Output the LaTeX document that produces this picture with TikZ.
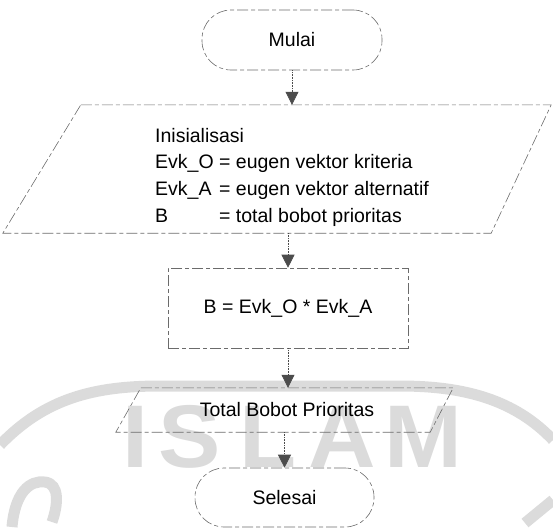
\documentclass[tikz,border=0pt]{standalone}
\usepackage{fontspec}
\setmainfont{Liberation Sans}
\usetikzlibrary{arrows.meta,calc}

\definecolor{wmgray}{gray}{0.86}
\definecolor{linegray}{gray}{0.42}

\tikzset{
  outline/.style={draw=linegray, line width=0.6pt,
    dash pattern=on 11pt off 3pt on 4pt off 3pt},
  label/.style={font=\fontsize{19.5}{26.7}\selectfont, inner sep=0pt},
  terminal/.style={outline, rounded corners=29pt, minimum width=180pt,
    minimum height=60pt, label},
  process/.style={outline, minimum width=240pt, minimum height=80pt, label},
  frame/.style={minimum width=#1, inner sep=0pt},
  conn/.style={draw=black!70, line width=0.6pt, densely dotted,
    -{Triangle[width=13pt,length=13pt]}},
  wmband/.style={draw=wmgray, line width=11pt},
  wmletter/.style={text=wmgray, font=\fontsize{89}{89}\selectfont\bfseries,
    inner sep=0pt, anchor=base, xscale=1.05},
}

\begin{document}
\begin{tikzpicture}[x=1pt,y=-1pt]
\useasboundingbox (0,0) rectangle (553,530);

% faint background emblem
\draw[wmband] (0,445) .. controls (45,398) and (95,386) .. (160,386)
  -- (400,386) .. controls (465,386) and (515,400) .. (553,440);
\draw[wmband] (12,527) .. controls (15,492) and (30,480) .. (45,482)
  .. controls (60,484) and (58,505) .. (52,522);
\draw[wmband] (525,523) -- (553,500);
\node[wmletter] (wmI) at (135,467) {I};
\node[wmletter] (wmS) at (190,467) {S};
\node[wmletter] (wmL) at (268,467) {L};
\node[wmletter] (wmA) at (342,467) {A};
\node[wmletter] (wmM) at (423,467) {M};

% start
\node[terminal] (mulai) at (292,40) {Mulai};

% initialisation (input/output parallelogram)
\node[frame=548pt, minimum height=128pt] (init) at (277,169) {};
\draw[outline] ($(init.north west)+(78,0)$) -- (init.north east)
  -- ($(init.south east)+(-60,0)$) -- (init.south west) -- cycle;
\node[label, anchor=base west] (inittext) at (155,142)
  {\begin{tabular}[t]{@{}l@{ }l@{}}
    \multicolumn{2}{@{}l@{}}{Inisialisasi}\\
    Evk\_O & = eugen vektor kriteria\\
    Evk\_A & = eugen vektor alternatif\\
    B & = total bobot prioritas
  \end{tabular}};

% computation
\node[process] (calc) at (288,308) {B = Evk\_O * Evk\_A};

% output
\node[frame=337pt, minimum height=44pt] (total) at (284.5,410) {};
\draw[outline] ($(total.north west)+(25,0)$) -- (total.north east)
  -- ($(total.south east)+(-23,0)$) -- (total.south west) -- cycle;
\node[label] (totaltext) at (287,410) {Total Bobot Prioritas};

% end
\node[terminal, minimum width=179pt, minimum height=59pt] (selesai)
  at (284.5,497.5) {Selesai};

% flow
\draw[conn] (mulai.south) -- (mulai.south |- init.north);
\draw[conn] (calc.north |- init.south) -- (calc.north);
\draw[conn] (calc.south) -- (calc.south |- total.north);
\draw[conn] (selesai.north |- total.south) -- (selesai.north);
\end{tikzpicture}
\end{document}
